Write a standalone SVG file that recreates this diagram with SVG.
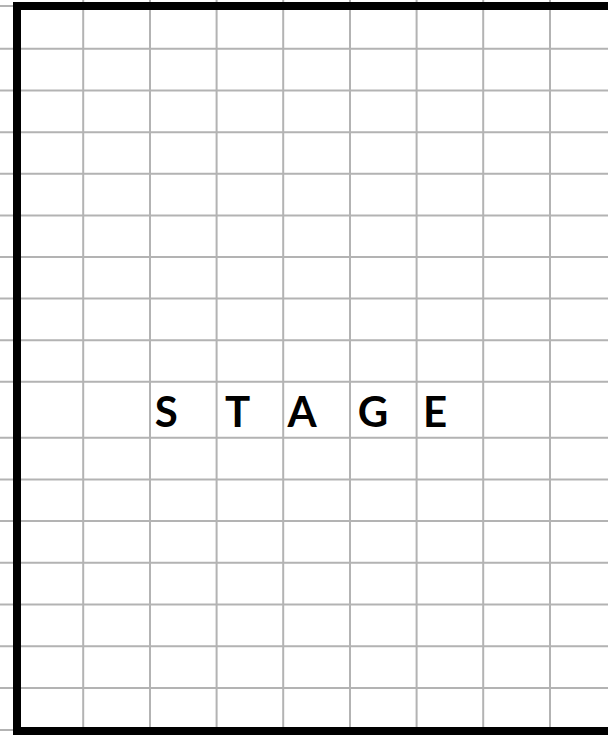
<svg xmlns="http://www.w3.org/2000/svg" width="608" height="735" viewBox="0 0 608 735">
<style>
.g{stroke:#b3b3b3;stroke-width:2;fill:none}
.b{stroke:#000;stroke-width:8;fill:none}
.t{font-family:Lato,"Open Sans","DejaVu Sans",sans-serif;font-weight:bold;font-size:42px;fill:#000;text-anchor:middle}
</style>
<rect width="608" height="735" fill="#fff"/>
<g id="grid" class="g">
<path d="M0 6H608M0 48.7H608M0 90.5H608M0 132.2H608M0 173.8H608M0 215.4H608M0 257H608M0 298.6H608M0 340.2H608M0 381.8H608M0 437.8H608M0 479.4H608M0 521H608M0 562.7H608M0 604.4H608M0 646.3H608M0 688H608M0 730H608"/>
<path d="M83.2 0V735M150 0V735M216.6 0V735M283.2 0V735M350 0V735M416.6 0V735M483.2 0V735M550 0V735"/>
</g>
<g id="border">
<path class="b" d="M608 6H17V731H608"/>
</g>
<g id="label">
<text class="t" y="427"><tspan x="166.3">S</tspan><tspan x="237.5">T</tspan><tspan x="302">A</tspan><tspan x="373">G</tspan><tspan x="435">E</tspan></text>
</g>
</svg>
